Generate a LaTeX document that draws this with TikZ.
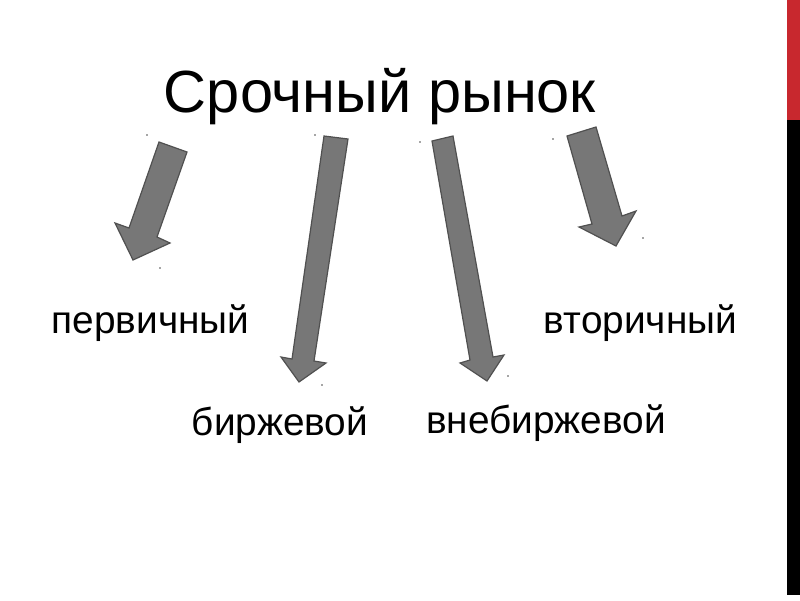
\documentclass[tikz,border=0pt]{standalone}
\usepackage{fontspec}
\setmainfont{Liberation Sans}
\definecolor{arrowfill}{RGB}{119,119,119}
\definecolor{arrowline}{RGB}{80,80,80}
\definecolor{barred}{RGB}{200,40,46}
\begin{document}
\begin{tikzpicture}[x=1pt,y=-1pt,
  blockarrow/.style={fill=arrowfill,draw=arrowline,line width=1.2pt,line join=miter},
  title/.style={font=\fontsize{59.5}{60}\selectfont,anchor=base,inner sep=0pt},
  label/.style={font=\fontsize{38.8}{40}\selectfont,anchor=base,inner sep=0pt},
  speck/.style={fill=black!70,draw=none}]
\useasboundingbox (0,0) rectangle (800,600);
\fill[white] (0,0) rectangle (800,600);
% side bar
\fill[barred] (787,0) rectangle (800,120);
\fill[black] (787,120) rectangle (800,595);
% texts
\node[title] (t) at (380,112) {Срочный рынок};
\node[label] (l1) at (150.5,333) {первичный};
\node[label] (l2) at (280,435) {биржевой};
\node[label] (l3) at (546,433) {внебиржевой};
\node[label] (l4) at (640.5,333) {вторичный};
% block arrows
\draw[blockarrow] (159,142) -- (187,152) -- (157,237) -- (170,243) -- (133,260) -- (115,223) -- (129,228) -- cycle;
\draw[blockarrow] (324,136) -- (348,139) -- (314,361) -- (326,363) -- (299,382) -- (281,357) -- (292,359) -- cycle;
\draw[blockarrow] (432,141) -- (453,136) -- (493,357) -- (504,355) -- (487,381) -- (460,363) -- (470,360) -- cycle;
\draw[blockarrow] (567,136) -- (596,127) -- (622,216) -- (636,211) -- (616,246) -- (579,227) -- (592,224) -- cycle;
% specks
\foreach \p in {(147,135),(160,268),(315,135),(322,385),(420,142),(508,376),(553,139),(643,238)}
  \fill[speck] \p circle (0.8);
\end{tikzpicture}
\end{document}
